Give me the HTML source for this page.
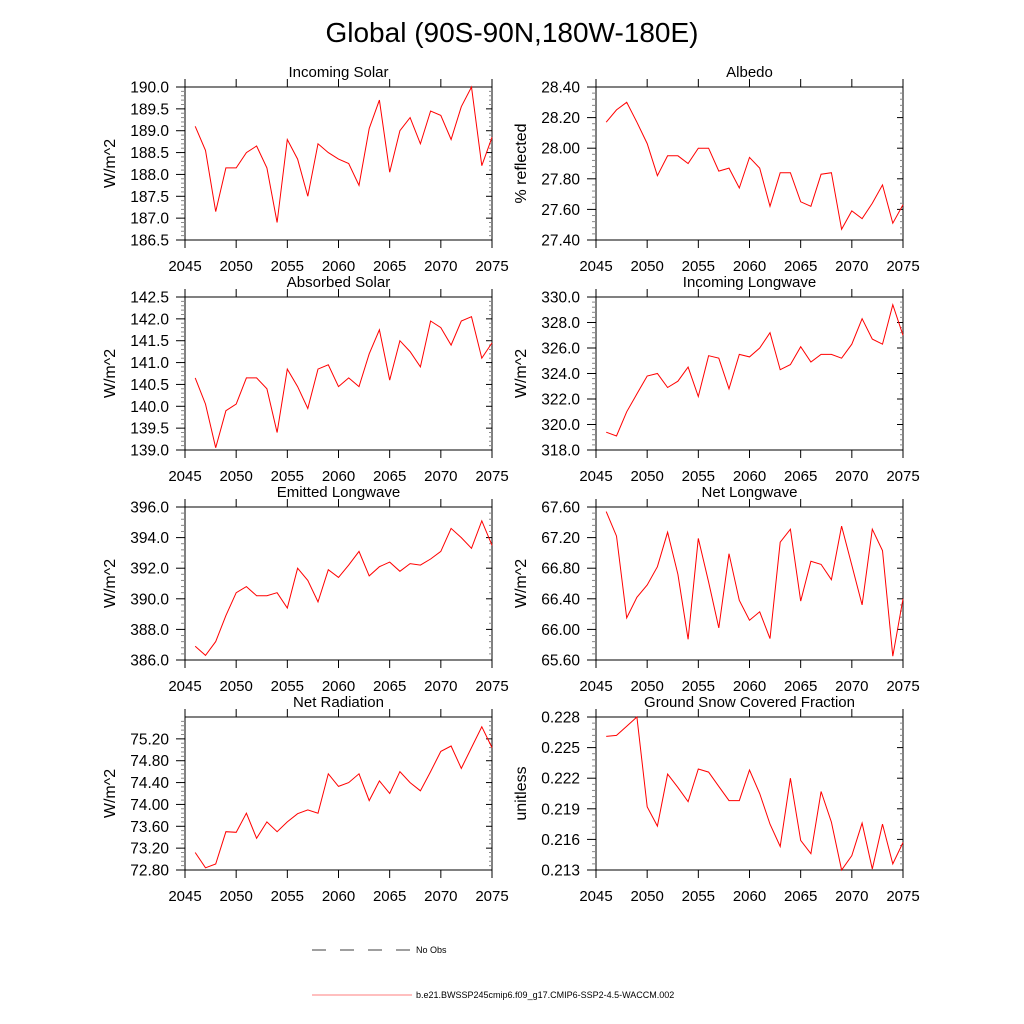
<!DOCTYPE html>
<html><head><meta charset="utf-8"><style>
body{margin:0;background:#fff;}
svg{display:block;font-family:"Liberation Sans",sans-serif;}
</style></head><body>
<svg id="c" width="1024" height="1024" viewBox="0 0 1024 1024">
<text x="512" y="42" text-anchor="middle" font-size="28">Global (90S-90N,180W-180E)</text>
<g>
<line x1="312" y1="950" x2="412" y2="950" stroke="#000" stroke-width="0.8" stroke-dasharray="14,14"/>
<text x="416" y="953" font-size="9">No Obs</text>
<line x1="312" y1="995" x2="412" y2="995" stroke="#f00" stroke-width="0.6"/>
<text x="416" y="998" font-size="9">b.e21.BWSSP245cmip6.f09_g17.CMIP6-SSP2-4.5-WACCM.002</text>
</g>
</svg>
<script>
const years=[2046,2047,2048,2049,2050,2051,2052,2053,2054,2055,2056,2057,2058,2059,2060,2061,2062,2063,2064,2065,2066,2067,2068,2069,2070,2071,2072,2073,2074,2075];
const xTicks=[2045,2050,2055,2060,2065,2070,2075];
const incomingSolar=[189.1,188.55,187.15,188.15,188.15,188.5,188.65,188.15,186.9,188.8,188.35,187.5,188.7,188.5,188.35,188.25,187.75,189.05,189.7,188.05,189.0,189.3,188.7,189.45,189.35,188.8,189.55,190.0,188.2,188.85];
const albedo=[28.17,28.25,28.30,28.17,28.03,27.82,27.95,27.95,27.90,28.00,28.00,27.85,27.87,27.74,27.94,27.87,27.62,27.84,27.84,27.65,27.62,27.83,27.84,27.47,27.59,27.54,27.64,27.76,27.51,27.63];
const absorbedSolar=[140.65,140.05,139.05,139.9,140.05,140.65,140.65,140.4,139.4,140.85,140.45,139.95,140.85,140.95,140.45,140.65,140.45,141.2,141.75,140.6,141.5,141.25,140.9,141.95,141.8,141.4,141.95,142.05,141.1,141.45];
const incomingLW=[319.4,319.1,321.0,322.4,323.8,324.0,322.9,323.4,324.5,322.2,325.4,325.2,322.8,325.5,325.3,326.0,327.2,324.3,324.7,326.1,324.9,325.5,325.5,325.2,326.3,328.3,326.7,326.3,329.4,327.0];
const emittedLW=[386.9,386.3,387.2,388.9,390.4,390.8,390.2,390.2,390.4,389.4,392.0,391.2,389.8,391.9,391.4,392.2,393.1,391.5,392.1,392.4,391.8,392.3,392.2,392.6,393.1,394.6,394.0,393.3,395.1,393.5];
const netLW=[67.54,67.22,66.15,66.42,66.58,66.82,67.27,66.72,65.87,67.19,66.62,66.02,66.99,66.38,66.12,66.23,65.88,67.14,67.31,66.37,66.89,66.85,66.65,67.35,66.84,66.32,67.31,67.03,65.65,66.40];
const netRad=[73.12,72.84,72.91,73.50,73.49,73.84,73.38,73.68,73.50,73.68,73.83,73.90,73.84,74.56,74.33,74.40,74.56,74.07,74.43,74.20,74.60,74.40,74.25,74.60,74.97,75.07,74.66,75.04,75.42,75.04];
const snow=[0.2261,0.2262,0.2271,0.228,0.2192,0.2173,0.2224,0.2211,0.2197,0.2229,0.2226,0.2212,0.2198,0.2198,0.2228,0.2205,0.2175,0.2153,0.222,0.2159,0.2146,0.2207,0.2177,0.213,0.2144,0.2176,0.2131,0.2175,0.2136,0.2157];
const tIS=["186.5","187.0","187.5","188.0","188.5","189.0","189.5","190.0"];
const tAl=["27.40","27.60","27.80","28.00","28.20","28.40"];
const tAS=["139.0","139.5","140.0","140.5","141.0","141.5","142.0","142.5"];
const tIL=["318.0","320.0","322.0","324.0","326.0","328.0","330.0"];
const tEL=["386.0","388.0","390.0","392.0","394.0","396.0"];
const tNL=["65.60","66.00","66.40","66.80","67.20","67.60"];
const tNR=["72.80","73.20","73.60","74.00","74.40","74.80","75.20"];
const tSn=["0.213","0.216","0.219","0.222","0.225","0.228"];
const svg=document.getElementById('c');
const NS='http://www.w3.org/2000/svg';
function mk(tag,a,p){const e=document.createElementNS(NS,tag);for(const k in a)e.setAttribute(k,a[k]);(p||svg).appendChild(e);return e;}
const panels=[
 {t:"Incoming Solar",y:"W/m^2",d:incomingSolar,tk:tIS,min:186.5,max:190.0,col:0,row:0,n:'incoming-solar'},
 {t:"Albedo",y:"% reflected",d:albedo,tk:tAl,min:27.4,max:28.4,col:1,row:0,n:'albedo'},
 {t:"Absorbed Solar",y:"W/m^2",d:absorbedSolar,tk:tAS,min:139.0,max:142.5,col:0,row:1,n:'absorbed-solar'},
 {t:"Incoming Longwave",y:"W/m^2",d:incomingLW,tk:tIL,min:318,max:330,col:1,row:1,n:'incoming-longwave'},
 {t:"Emitted Longwave",y:"W/m^2",d:emittedLW,tk:tEL,min:386,max:396,col:0,row:2,n:'emitted-longwave'},
 {t:"Net Longwave",y:"W/m^2",d:netLW,tk:tNL,min:65.6,max:67.6,col:1,row:2,n:'net-longwave'},
 {t:"Net Radiation",y:"W/m^2",d:netRad,tk:tNR,min:72.8,max:75.6,col:0,row:3,n:'net-radiation'},
 {t:"Ground Snow Covered Fraction",y:"unitless",d:snow,tk:tSn,min:0.213,max:0.228,col:1,row:3,n:'ground-snow-fraction'}
];
panels.forEach(p=>{
 const L=p.col?596:185, W=307, T=87+p.row*210, H=153;
 const g=mk('g',{});
 
 
 const X=v=>L+(v-2045)/30*W, Y=v=>T+H-(v-p.min)/(p.max-p.min)*H;
 const ti=mk('text',{x:L+W/2,y:T-10,'text-anchor':'middle','font-size':15},g);ti.textContent=p.t;
 
 
 const yl=mk('text',{x:0,y:0,'text-anchor':'middle','font-size':16,transform:`translate(${L-70},${T+H/2}) rotate(-90)`},g);yl.textContent=p.y;
 
 
 const fr=mk('rect',{x:L,y:T,width:W,height:H,fill:'none',stroke:'#000','stroke-width':1},g);
 
 
 xTicks.forEach(v=>{
  const x=X(v);
  mk('line',{x1:x,y1:T,x2:x,y2:T-8,stroke:'#000'},g);
  mk('line',{x1:x,y1:T+H,x2:x,y2:T+H+8,stroke:'#000'},g);
  const t=mk('text',{x:x,y:T+H+31,'text-anchor':'middle','font-size':15},g);t.textContent=v;
  
  
 });
 const nT=p.tk.length, step=(p.max-p.min)/(p.n==='net-radiation'?7:(nT-1));
 for(let i=0;i<nT;i++){
  const v=p.min+i*step, y=Y(v);
  mk('line',{x1:L-9,y1:y,x2:L,y2:y,stroke:'#000'},g);
  mk('line',{x1:L+W,y1:y,x2:L+W-6,y2:y,stroke:'#000'},g);
  const t=mk('text',{x:L-16,y:y+5.5,'text-anchor':'end','font-size':15.5},g);t.textContent=p.tk[i];
  
  
 }
 const nMaj=p.n==='net-radiation'?7:nT-1;
 for(let i=0;i<nMaj;i++)for(let j=1;j<5;j++){
  const y=Y(p.min+(i+j/5)*step);
  mk('line',{x1:L-4,y1:y,x2:L,y2:y,stroke:'#888'},g);
  mk('line',{x1:L+W,y1:y,x2:L+W-3,y2:y,stroke:'#888'},g);
 }
 const pts=p.d.map((v,i)=>X(years[i]).toFixed(1)+','+Y(v).toFixed(1)).join(' ');
 const pl=mk('polyline',{points:pts,fill:'none',stroke:'#f00','stroke-width':1},g);
 
 
});
</script>
</body></html>
